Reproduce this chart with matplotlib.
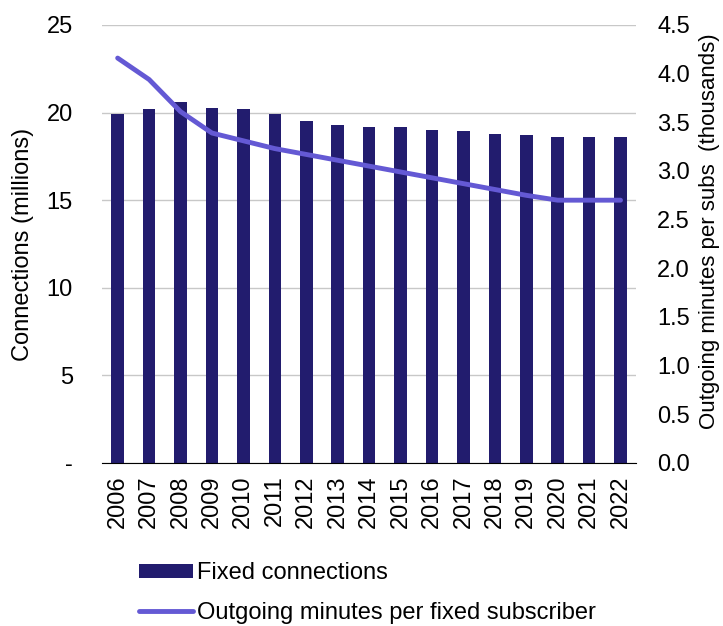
import matplotlib.pyplot as plt
import numpy as np

years = ['2006', '2007', '2008', '2009', '2010', '2011', '2012', '2013', '2014',
         '2015', '2016', '2017', '2018', '2019', '2020', '2021', '2022']
connections = [19.9, 20.2, 20.6, 20.25, 20.2, 19.9, 19.5, 19.3, 19.2,
               19.15, 19.0, 18.95, 18.8, 18.7, 18.6, 18.6, 18.6]
minutes = [4.16, 3.94, 3.61, 3.39, 3.31, 3.23, 3.17, 3.11, 3.05,
           2.99, 2.93, 2.87, 2.81, 2.75, 2.70, 2.70, 2.70]
left_ticks = [0, 5, 10, 15, 20, 25]
left_labels = ['-', '5', '10', '15', '20', '25']
right_ticks = [0.0, 0.5, 1.0, 1.5, 2.0, 2.5, 3.0, 3.5, 4.0, 4.5]

plt.rcParams['font.family'] = ['Liberation Sans', 'DejaVu Sans']
fs = 17

bar_col = '#221c6e'
line_col = '#6459d4'

fig = plt.figure(figsize=(7.23, 6.26), dpi=100)
ax = fig.add_axes([0.141, 0.2604, 0.739, 0.6997])
x = np.arange(len(years))

ax.bar(x, connections, width=0.4, color=bar_col, zorder=2, label='Fixed connections')
ax.set_ylim(0, 25)
ax.set_xlim(-0.5, len(years) - 0.5)
ax.set_yticks(left_ticks)
ax.set_yticklabels(left_labels, fontsize=fs)
ax.set_xticks(x)
ax.set_xticklabels(years, rotation=90, fontsize=fs)
ax.tick_params(axis='x', length=0, pad=9)
ax.tick_params(axis='y', length=0, pad=21)
ax.set_ylabel('Connections (millions)', fontsize=fs, labelpad=9)
ax.grid(axis='y', color='#c8c8c8', lw=1, zorder=0)
for s in ['top', 'right', 'left']:
    ax.spines[s].set_visible(False)
ax.spines['bottom'].set_color('black')
ax.spines['bottom'].set_zorder(3)

ax2 = ax.twinx()
ax2.plot(x, minutes, color=line_col, lw=3.5, solid_capstyle='round',
         label='Outgoing minutes per fixed subscriber')
ax2.set_ylim(0, 4.5)
ax2.set_yticks(right_ticks)
ax2.set_yticklabels([f'{v:.1f}' for v in right_ticks], fontsize=fs)
ax2.tick_params(axis='y', length=0, pad=15)
ax2.set_ylabel('Outgoing minutes per subs  (thousands)', fontsize=16)
ax2.yaxis.set_label_coords(1.118, 0.53)
for s in ax2.spines.values():
    s.set_visible(False)

h1, l1 = ax.get_legend_handles_labels()
h2, l2 = ax2.get_legend_handles_labels()
fig.legend(h1 + h2, l1 + l2, loc='upper left', bbox_to_anchor=(0.179, 0.117),
           frameon=False, fontsize=fs, handlelength=2.3, handleheight=0.5,
           handletextpad=0.15, labelspacing=0.75, borderaxespad=0)

fig.savefig('out.png', dpi=100)
